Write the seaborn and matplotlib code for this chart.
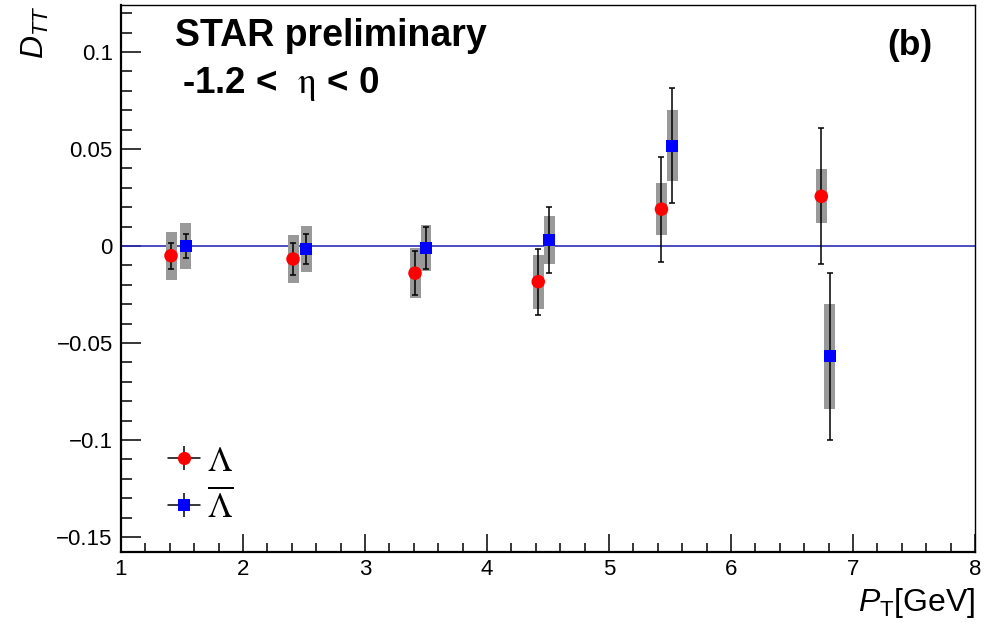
import numpy as np
import pandas as pd
import seaborn as sns
import matplotlib
matplotlib.use("Agg")
import matplotlib.pyplot as plt
from matplotlib.lines import Line2D
from matplotlib.legend_handler import HandlerTuple
from matplotlib.font_manager import FontProperties
from matplotlib.ticker import MultipleLocator

# Lambda: pT bin centres, D_TT, statistical and systematic uncertainties
pt_lam = [1.41, 2.41, 3.41, 4.42, 5.43, 6.74]
dtt_lam = [-0.005, -0.0067, -0.014, -0.0184, 0.019, 0.0256]
stat_lam = [0.0066, 0.0085, 0.0115, 0.017, 0.027, 0.035]
sys_lam = [0.0123, 0.0125, 0.013, 0.014, 0.0135, 0.014]

# Anti-Lambda
pt_alam = [1.53, 2.52, 3.50, 4.51, 5.52, 6.81]
dtt_alam = [0.0, -0.0015, -0.001, 0.003, 0.0517, -0.0568]
stat_alam = [0.0064, 0.0077, 0.011, 0.017, 0.0297, 0.043]
sys_alam = [0.012, 0.012, 0.012, 0.0125, 0.0184, 0.027]

x_ticks = [1, 2, 3, 4, 5, 6, 7, 8]
y_ticks = [-0.15, -0.1, -0.05, 0, 0.05, 0.1]
y_tick_labels = ["\u22120.15", "\u22120.1", "\u22120.05", "0", "0.05", "0.1"]

sns.set_theme(style="ticks")
plt.rcParams["font.family"] = ["Liberation Sans", "DejaVu Sans"]
plt.rcParams["text.color"] = "black"
plt.rcParams["axes.labelcolor"] = "black"
plt.rcParams["mathtext.fontset"] = "custom"
plt.rcParams["mathtext.rm"] = "Liberation Sans"
plt.rcParams["mathtext.it"] = "Liberation Sans:italic"
plt.rcParams["mathtext.bf"] = "Liberation Sans:bold"

lam = pd.DataFrame({"pt": pt_lam, "dtt": dtt_lam, "stat": stat_lam, "sys": sys_lam})
alam = pd.DataFrame({"pt": pt_alam, "dtt": dtt_alam, "stat": stat_alam, "sys": sys_alam})

fig = plt.figure(figsize=(9.89, 6.24), dpi=100)
ax = fig.add_axes([121 / 989, 1 - 552 / 624, (975 - 121) / 989, (552 - 5) / 624])

ax.axhline(0, color="#2e2eb8", lw=1.2, zorder=1)

box_w = 0.09
box_color = "#999999"
for df in (lam, alam):
    ax.bar(df["pt"], 2 * df["sys"], bottom=df["dtt"] - df["sys"], width=box_w,
           color=box_color, edgecolor="none", zorder=2)
    ax.errorbar(df["pt"], df["dtt"], yerr=df["stat"], fmt="none", ecolor="black",
                elinewidth=1.1, capsize=2.3, capthick=1.1, zorder=3)

sns.scatterplot(data=lam, x="pt", y="dtt", marker="o", color="#ff0000", s=95,
                edgecolor="none", linewidth=0, zorder=4, ax=ax, legend=False)
sns.scatterplot(data=alam, x="pt", y="dtt", marker="s", color="#0000ff", s=75,
                edgecolor="none", linewidth=0, zorder=4, ax=ax, legend=False)

ax.set_xlim(1, 8)
ax.set_ylim(-0.1577, 0.1242)
ax.set_xticks(x_ticks)
ax.set_xticklabels([str(t) for t in x_ticks])
ax.set_yticks(y_ticks)
ax.set_yticklabels(y_tick_labels)
ax.xaxis.set_minor_locator(MultipleLocator(0.2))
ax.yaxis.set_minor_locator(MultipleLocator(0.01))
ax.tick_params(axis="both", which="both", direction="in", top=False, right=False,
               labelsize=16, colors="black", width=1.1)
ax.tick_params(axis="x", which="major", length=13, pad=5)
ax.tick_params(axis="x", which="minor", length=6.5)
ax.tick_params(axis="y", which="major", length=14.5, pad=6)
ax.tick_params(axis="y", which="minor", length=8)

for side in ("left", "bottom"):
    ax.spines[side].set_linewidth(1.6)
for side in ("top", "right"):
    ax.spines[side].set_linewidth(1.0)
for sp in ax.spines.values():
    sp.set_color("black")

ax.set_xlabel(r"$P_{\mathrm{T}}$[GeV]", fontsize=23, loc="right")
ax.xaxis.set_label_coords(1.0, -0.062)
ax.set_ylabel(r"$D_{TT}$", fontsize=23, loc="top")
ax.yaxis.set_label_coords(-0.082, 1.0)

ax.text(0.063, 0.925, "STAR preliminary", transform=ax.transAxes, fontsize=27,
        fontweight="bold", va="baseline", ha="left")
ax.text(0.072, 0.84, r"-1.2 <  $\mathrm{\eta}$ < 0", transform=ax.transAxes,
        fontsize=26.5, fontweight="bold", va="baseline", ha="left",
        math_fontfamily="stix")
ax.text(0.950, 0.908, "(b)", transform=ax.transAxes, fontsize=25.5,
        fontweight="bold", va="baseline", ha="right")

cross = dict(color="black", lw=1.1)
h_lam = (Line2D([], [], **cross),
         Line2D([], [], ls="none", marker="|", markersize=17, markeredgewidth=1.1, color="black"),
         Line2D([], [], ls="none", marker="o", markersize=9.5, color="#ff0000", markeredgewidth=0))
h_alam = (Line2D([], [], **cross),
          Line2D([], [], ls="none", marker="|", markersize=17, markeredgewidth=1.1, color="black"),
          Line2D([], [], ls="none", marker="s", markersize=8.5, color="#0000ff", markeredgewidth=0))
leg_font = FontProperties(size=25, math_fontfamily="stix")
ax.legend([h_lam, h_alam], [r"$\Lambda$", r"$\overline{\Lambda}$"],
          handler_map={tuple: HandlerTuple(ndivide=1, pad=0)},
          loc="lower left", bbox_to_anchor=(0.027, 0.006), frameon=False,
          prop=leg_font, handlelength=0.9, handletextpad=0.2, labelspacing=0.32,
          borderpad=0.2)

fig.savefig("out.png", dpi=100)
